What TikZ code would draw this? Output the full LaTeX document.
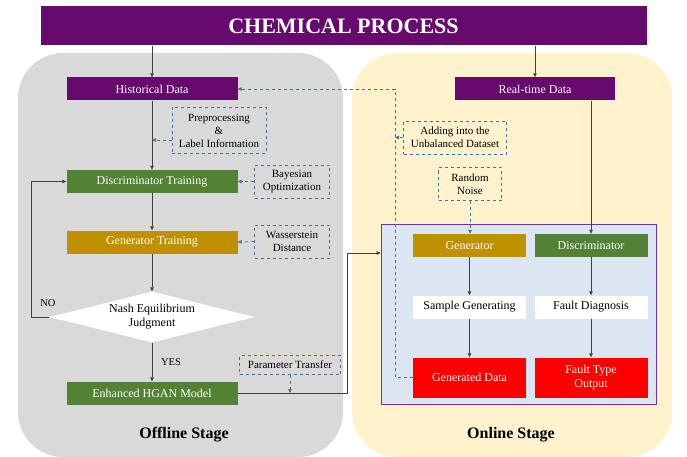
\documentclass[tikz,border=0pt]{standalone}
\usepackage{fontspec}
\setmainfont{Liberation Serif}
\usetikzlibrary{arrows.meta, shapes.geometric}

\definecolor{procpurple}{HTML}{660A6E}
\definecolor{trgreen}{HTML}{548235}
\definecolor{trgold}{HTML}{BF9000}
\definecolor{offgray}{HTML}{D9D9D9}
\definecolor{onyellow}{HTML}{FFF2CC}
\definecolor{modblue}{HTML}{DCE6F2}
\definecolor{modedge}{HTML}{7030A0}
\definecolor{notedge}{HTML}{41719C}
\definecolor{lineclr}{HTML}{404040}

\begin{document}
\begin{tikzpicture}[x=1pt, y=-1pt]
    \tikzstyle{block} = [rectangle, inner sep=0pt, text=white, font=\fontsize{12}{14}\selectfont, align=center]
    \tikzstyle{offblock} = [block, minimum width=171pt, minimum height=23pt]
    \tikzstyle{onblock} = [block, minimum width=113pt, minimum height=23pt]
    \tikzstyle{note} = [rectangle, draw=notedge, dashed, semithick, inner sep=0pt, font=\fontsize{11}{13}\selectfont, align=center]
    \tikzstyle{flow} = [->, >={Triangle[length=4pt, width=3.5pt]}, lineclr, semithick]
    \tikzstyle{hint} = [->, >={Triangle[length=4pt, width=3.5pt]}, notedge, dashed, semithick]

    \useasboundingbox (0,0) rectangle (687,457);

    % stage panels
    \fill[offgray, rounded corners=45pt] (18,53) rectangle (343,457);
    \fill[onyellow, rounded corners=45pt] (352,53) rectangle (672,457);

    \node[block, fill=procpurple, minimum width=606pt, minimum height=39pt,
          font=\fontsize{22}{24}\selectfont\bfseries] (title) at (343.5,26) {CHEMICAL PROCESS};

    % offline stage
    \node[offblock, fill=procpurple] (hist) at (152,89) {Historical Data};
    \node[offblock, fill=trgreen] (disc) at (152,181.5) {Discriminator Training};
    \node[offblock, fill=trgold] (gtrain) at (152,242) {Generator Training};
    \node[diamond, fill=white, aspect=4, inner sep=0pt, minimum width=205pt, minimum height=51pt,
          font=\fontsize{12}{14}\selectfont, align=center] (nash) at (152,317) {Nash Equilibrium\\Judgment};
    \node[offblock, fill=trgreen] (enh) at (152,393) {Enhanced HGAN Model};

    \node[note, minimum width=94pt, minimum height=46pt] (prep) at (219,130.5) {Preprocessing\\\&\\Label Information};
    \node[note, minimum width=75pt, minimum height=33pt] (bayes) at (292,181.5) {Bayesian\\Optimization};
    \node[note, minimum width=75pt, minimum height=33pt] (wass) at (292,241.5) {Wasserstein\\Distance};
    \node[note, minimum width=101pt, minimum height=19pt] (ptrans) at (290,365) {Parameter Transfer};

    \node[font=\fontsize{10.5}{12}\selectfont] (nolbl) at (48,303) {NO};
    \node[font=\fontsize{10.5}{12}\selectfont] (yeslbl) at (171,362) {YES};
    \node[font=\fontsize{16}{18}\selectfont\bfseries] (offlbl) at (184,435) {Offline Stage};

    % online stage
    \node[block, fill=procpurple, minimum width=160pt, minimum height=23pt] (real) at (535,89) {Real-time Data};
    \node[note, minimum width=103pt, minimum height=33pt] (add) at (455,137.5) {Adding into the\\Unbalanced Dataset};
    \node[note, minimum width=63pt, minimum height=33pt] (noise) at (470,184) {Random\\Noise};

    \node[rectangle, fill=modblue, draw=modedge, semithick, minimum width=275pt, minimum height=180pt] (online) at (518.5,314) {};
    \node[onblock, fill=trgold] (ogen) at (469.5,245.5) {Generator};
    \node[onblock, fill=trgreen] (odisc) at (591,245.5) {Discriminator};
    \node[onblock, fill=white, text=black] (sample) at (469.5,307) {Sample Generating};
    \node[onblock, fill=white, text=black] (fdiag) at (591,307) {Fault Diagnosis};
    \node[onblock, fill=red, minimum height=40pt] (gendata) at (469.5,377.5) {Generated Data};
    \node[onblock, fill=red, minimum height=40pt] (ftype) at (591,377.5) {Fault Type\\Output};

    \node[font=\fontsize{16}{18}\selectfont\bfseries] (onlbl) at (511,435) {Online Stage};

    \coordinate (bend) at (347,253);
    \coordinate (dashx) at (395,0);
    \path ([yshift=-9.5pt]prep.west) coordinate (prepout);

    % solid flow
    \draw[flow] (hist |- title.south) -- (hist);
    \draw[flow] (real |- title.south) -- (real);
    \foreach \from/\to in {hist/disc, disc/gtrain, gtrain/nash, nash/enh, ogen/sample, sample/gendata, odisc/fdiag, fdiag/ftype}
    \draw[flow] (\from) -- (\to);
    \draw[flow] (nash.west) -- ++(-18,0) |- (disc.west);
    \draw[flow] (enh.east) -| (bend) -- (bend -| online.west);
    \draw[flow] (odisc |- real.south) -- (odisc.north);

    % dashed hints
    \draw[hint] (prepout) -- (prepout -| hist);
    \draw[hint] (bayes.west) -- (disc.east);
    \draw[hint] (wass.west) -- (gtrain.east);
    \draw[hint] (ptrans.south) -- (ptrans.south |- enh.east);
    \draw[hint] (noise.south) -- (noise.south |- ogen.north);
    \draw[hint] (gendata.west) -- (gendata.west -| dashx) |- (hist.east);
    \draw[hint] (add.west) -- (add.west -| dashx);
\end{tikzpicture}
\end{document}
